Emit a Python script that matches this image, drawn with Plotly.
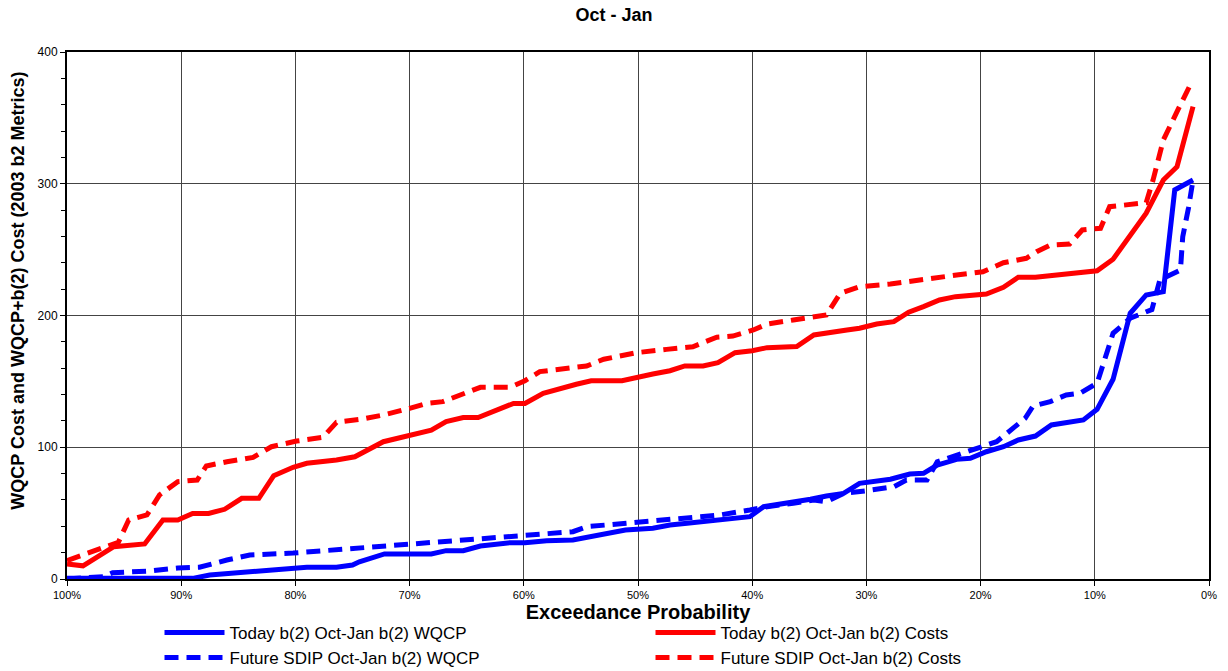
import plotly.graph_objects as go

# Exceedance probability (%) and values
today_wqcp_p = [100.0, 89.0, 87.5, 83.1, 82.0, 79.0, 76.4, 75.0, 74.4, 72.2, 68.1, 66.8, 65.3, 63.8, 61.2,
                59.9, 58.0, 55.7, 53.9, 52.8, 51.1, 48.7, 47.2, 45.7, 42.8, 40.2, 39.0, 36.4, 34.9, 33.5,
                32.0, 30.6, 29.1, 27.9, 26.2, 25.0, 23.8, 22.1, 20.9, 19.5, 18.0, 16.7, 15.2, 13.8, 11.0,
                9.8, 8.4, 6.9, 5.5, 4.0, 3.0, 1.4]
today_wqcp_v = [0.5, 0.5, 3, 6.8, 6.8, 8.9, 8.9, 10.6, 13.1, 19, 19, 21.5, 21.5, 25, 27.6,
                27.6, 29.1, 29.6, 32.9, 34.7, 37.2, 38.5, 41, 42.3, 44.8, 47.3, 54.9, 57.9, 60.5, 63,
                65, 72.6, 73.9, 75.7, 79.7, 80.2, 86.5, 90.8, 91.6, 96.6, 100.4, 105.5, 108.5, 116.9, 120.7,
                128.8, 151.6, 201.7, 215.6, 218.1, 295.3, 302.8]

today_cost_p = [100.0, 98.6, 95.9, 93.2, 91.6, 90.3, 89.0, 87.6, 86.2, 84.7, 83.2, 81.9, 80.2, 79.0, 76.4,
                74.8, 72.3, 70.0, 68.1, 66.8, 65.3, 64.0, 62.5, 60.9, 59.9, 58.3, 55.4, 54.1, 51.4, 49.8,
                48.7, 47.2, 45.9, 44.3, 43.0, 41.5, 40.0, 38.7, 37.3, 36.1, 34.6, 33.3, 31.7, 30.6, 29.1,
                27.6, 26.3, 25.0, 23.6, 22.2, 19.5, 18.0, 16.7, 15.2, 9.8, 8.4, 5.5, 4.0, 2.8, 1.4]
today_cost_v = [11.4, 10, 24.5, 26.6, 44.8, 44.8, 49.8, 49.8, 52.9, 61.2, 61.2, 78.4, 84.8, 87.8, 90.3,
                92.8, 104.2, 109.3, 113, 119.4, 122.5, 122.5, 127.5, 133.3, 133.3, 141, 147.8, 150.5, 150.5, 153,
                155.6, 158.1, 161.7, 161.7, 164.2, 171.8, 173.3, 175.6, 175.6, 176.4, 185.2, 186.5, 189, 190.3, 193.5,
                195.3, 202.5, 206.7, 211.8, 214.3, 216.3, 221.4, 229, 229, 234, 242.7, 277.6, 302.8, 312.9, 358.5]

future_wqcp_p = [100.0, 96.8, 96.0, 92.7, 90.3, 88.4, 86.0, 84.0, 80.2, 76.7, 74.3, 72.3, 70.3, 68.0, 65.6,
                 63.2, 60.6, 58.6, 55.7, 54.5, 52.8, 49.8, 48.7, 45.7, 42.8, 40.2, 38.7, 36.4, 34.6, 33.5,
                 32.0, 30.0, 27.6, 26.5, 24.7, 23.8, 21.8, 20.1, 18.6, 16.1, 15.4, 13.9, 12.5, 11.3, 9.8,
                 8.4, 6.9, 5.0, 4.3, 2.5, 2.3, 1.8, 1.4]
future_wqcp_v = [0, 1.8, 4.8, 6.1, 8.3, 8.9, 14.4, 18.2, 19.7, 22, 23.5, 24.5, 25.8, 27.6, 29.1,
                 30.9, 32.6, 34.2, 35.9, 39.7, 41, 43.5, 43.5, 46, 48.6, 52.4, 54.9, 57.5, 60, 58.7,
                 65, 67, 70, 75.1, 75.1, 89, 94.9, 100.4, 104.2, 122, 131.3, 134.6, 139.7, 141, 148.6,
                 186.5, 197.9, 204.5, 227, 234.5, 259.8, 281.4, 302.8]

future_cost_p = [100.0, 98.6, 95.5, 94.6, 93.0, 91.9, 90.3, 88.6, 87.8, 86.0, 83.7, 82.1, 79.9, 77.6, 76.4,
                 74.3, 72.3, 70.0, 68.5, 67.1, 65.3, 63.8, 61.2, 59.9, 58.6, 55.7, 54.5, 53.0, 50.1, 47.5,
                 45.2, 43.1, 41.7, 39.9, 38.7, 36.4, 35.2, 33.5, 32.3, 30.6, 27.9, 25.9, 24.1, 22.1, 19.8,
                 18.0, 16.0, 15.1, 13.9, 12.2, 11.1, 9.5, 8.7, 5.5, 4.9, 4.0, 2.8, 1.5]
future_cost_v = [14, 18.2, 27.9, 44.8, 48.6, 63.8, 73.9, 75.1, 85.8, 89, 92.3, 100.4, 104.7, 107.5, 118.9,
                 121.2, 124.5, 129.5, 133.3, 134.6, 140.4, 145.5, 145.5, 150.5, 157.4, 159.9, 161.7, 166.8, 171.8, 174.3,
                 176.3, 183.5, 184.4, 189, 193.5, 196.6, 198.3, 200.4, 216.8, 221.9, 223.9, 226.4, 229, 230.7, 233.2,
                 240.1, 243.4, 248.4, 253.5, 254.3, 264.9, 266.2, 282.6, 285.6, 302.8, 333.2, 354.7, 377.5]

x_ticks = [100, 90, 80, 70, 60, 50, 40, 30, 20, 10, 0]
x_tick_labels = [f"{t}%" for t in x_ticks]
y_ticks = [0, 100, 200, 300, 400]

BLUE = "#0000FF"
RED = "#FF0000"
DASH = "14px,8px"
FONT = "Liberation Sans, Arial, sans-serif"

fig = go.Figure()
fig.add_trace(go.Scatter(x=today_wqcp_p, y=today_wqcp_v, mode="lines",
                         name="Today b(2) Oct-Jan b(2) WQCP",
                         line=dict(color=BLUE, width=5)))
fig.add_trace(go.Scatter(x=today_cost_p, y=today_cost_v, mode="lines",
                         name="Today b(2) Oct-Jan b(2) Costs",
                         line=dict(color=RED, width=5)))
fig.add_trace(go.Scatter(x=future_wqcp_p, y=future_wqcp_v, mode="lines",
                         name="Future SDIP Oct-Jan b(2) WQCP",
                         line=dict(color=BLUE, width=5, dash=DASH)))
fig.add_trace(go.Scatter(x=future_cost_p, y=future_cost_v, mode="lines",
                         name="Future SDIP Oct-Jan b(2) Costs",
                         line=dict(color=RED, width=5, dash=DASH)))

fig.update_layout(
    width=1228, height=671,
    margin=dict(l=67, r=19, t=52, b=92, autoexpand=False),
    paper_bgcolor="white", plot_bgcolor="white",
    font=dict(family=FONT, color="black"),
    title=dict(text="<b>Oct - Jan</b>", x=0.5, xanchor="center", y=0.978, yanchor="middle",
               font=dict(size=18, color="black")),
    showlegend=True,
    legend=dict(orientation="h", x=0.081, xanchor="left", y=-0.068, yanchor="top",
                entrywidth=416, entrywidthmode="pixels",
                font=dict(size=17, family=FONT),
                tracegroupgap=0, itemwidth=60, bgcolor="rgba(0,0,0,0)"),
    annotations=[dict(text="<b>WQCP Cost and WQCP+b(2) Cost (2003 b2 Metrics)</b>",
                      xref="paper", yref="paper", x=-0.0429, y=0.547,
                      xanchor="center", yanchor="middle", textangle=-90,
                      showarrow=False, font=dict(size=18, color="black", family=FONT))],
)

fig.update_xaxes(
    range=[100, 0], tickmode="array", tickvals=x_ticks, ticktext=x_tick_labels,
    showgrid=True, gridcolor="#444444", gridwidth=1,
    showline=True, linecolor="black", linewidth=2, mirror=True,
    ticks="outside", ticklen=5, tickcolor="black",
    tickfont=dict(size=11, family=FONT),
    title=dict(text="<b>Exceedance Probability</b>", font=dict(size=20), standoff=2),
    zeroline=False,
)
fig.update_yaxes(
    range=[0, 400], tickmode="array", tickvals=y_ticks,
    showgrid=True, gridcolor="#444444", gridwidth=1,
    showline=True, linecolor="black", linewidth=2, mirror=True,
    ticks="outside", ticklen=5, tickcolor="black",
    minor=dict(dtick=20, ticks="outside", ticklen=4, tickcolor="black", showgrid=False),
    tickfont=dict(size=12),
    zeroline=False,
)

fig.write_html("out.html", config={"displayModeBar": False},
               post_script="document.body.style.margin='0';document.body.style.overflow='hidden';")
